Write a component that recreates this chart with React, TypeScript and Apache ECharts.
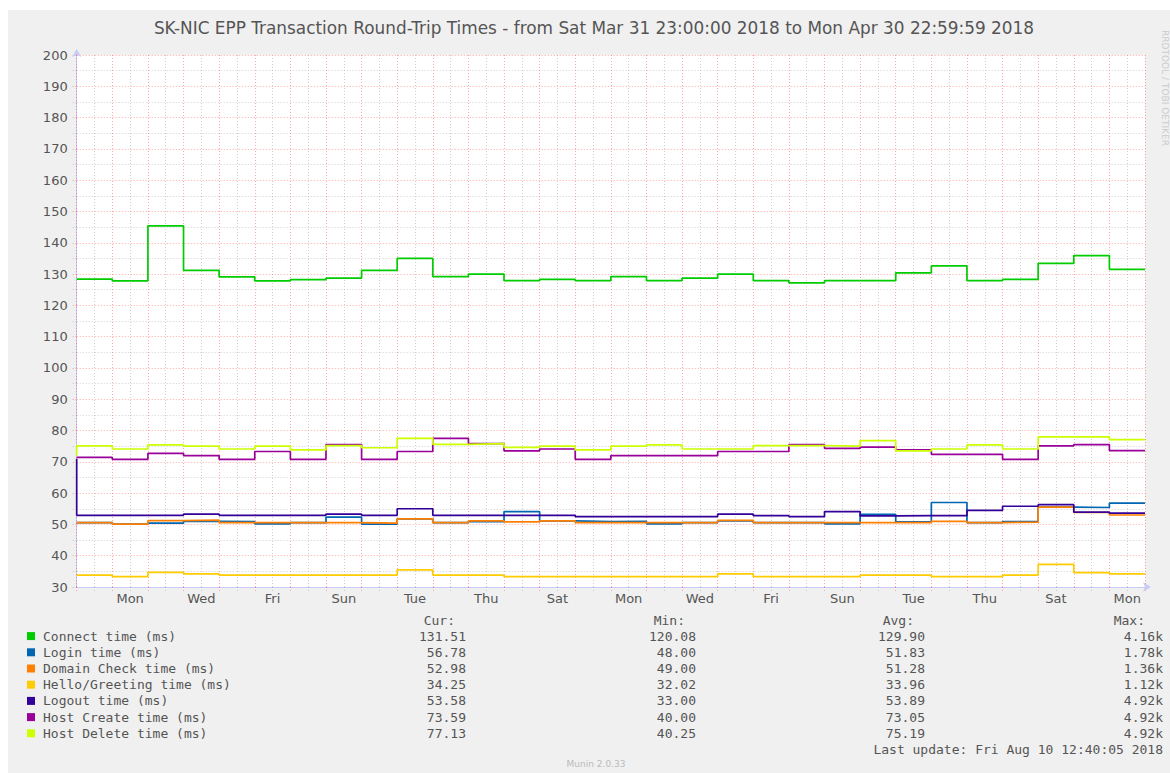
import React, { useEffect, useRef } from "react";
import * as echarts from "echarts";

// Day names for Apr 1 .. Apr 30, 2018 (one category per day)
const dayNames = [
  "Sun", "Mon", "Tue", "Wed", "Thu", "Fri", "Sat",
  "Sun", "Mon", "Tue", "Wed", "Thu", "Fri", "Sat",
  "Sun", "Mon", "Tue", "Wed", "Thu", "Fri", "Sat",
  "Sun", "Mon", "Tue", "Wed", "Thu", "Fri", "Sat",
  "Sun", "Mon",
];

const seriesNames = [
  "Connect time (ms)",
  "Login time (ms)",
  "Domain Check time (ms)",
  "Hello/Greeting time (ms)",
  "Logout time (ms)",
  "Host Create time (ms)",
  "Host Delete time (ms)",
];

const seriesColors = ["#00CC00", "#0066B3", "#FF8000", "#FFCC00", "#330099", "#990099", "#CCFF00"];

// one value per day (30 days)
const connectTime = [128.4, 127.8, 145.4, 131.2, 129.1, 127.8, 128.2, 128.7, 131.2, 135.0, 129.2, 130.0, 127.9, 128.3, 127.9, 129.2, 127.9, 128.7, 130.0, 127.9, 127.2, 127.9, 127.9, 130.4, 132.6, 127.9, 128.3, 133.4, 135.9, 131.5];
const loginTime = [50.6, 50.1, 50.4, 51.0, 50.9, 50.2, 50.6, 52.3, 50.1, 51.8, 50.6, 50.9, 54.1, 51.1, 50.9, 51.0, 50.2, 50.6, 51.1, 50.6, 50.6, 50.2, 53.2, 50.8, 57.0, 50.6, 50.9, 55.5, 55.4, 56.8];
const domainCheckTime = [50.6, 50.1, 51.2, 51.4, 50.6, 50.6, 50.6, 50.6, 50.4, 51.8, 50.6, 51.1, 50.8, 51.1, 50.6, 50.6, 50.6, 50.6, 51.3, 50.6, 50.6, 50.6, 50.6, 50.6, 51.0, 50.6, 50.7, 55.5, 53.8, 53.0];
const helloTime = [33.8, 33.3, 34.7, 34.2, 33.8, 33.8, 33.8, 33.8, 33.8, 35.5, 33.8, 33.8, 33.3, 33.3, 33.3, 33.3, 33.3, 33.3, 34.2, 33.3, 33.3, 33.3, 33.8, 33.8, 33.3, 33.3, 33.8, 37.2, 34.6, 34.2];
const logoutStartValue = 71.0;
const logoutTime = [52.9, 52.9, 52.9, 53.3, 52.9, 52.9, 52.9, 53.3, 52.9, 55.0, 52.9, 52.9, 52.9, 52.9, 52.5, 52.5, 52.5, 52.5, 53.3, 52.8, 52.5, 54.1, 52.7, 52.8, 52.8, 54.5, 55.8, 56.3, 53.9, 53.6];
const hostCreateTime = [71.4, 70.8, 72.7, 72.0, 70.8, 73.3, 70.8, 75.5, 70.8, 73.3, 77.5, 75.8, 73.5, 74.1, 70.8, 72.0, 72.0, 72.0, 73.3, 73.3, 75.5, 74.3, 74.7, 73.8, 72.4, 72.4, 70.8, 75.1, 75.5, 73.6];
const hostDeleteStartValue = 72.0;
const hostDeleteTime = [75.1, 74.1, 75.4, 75.0, 74.1, 75.0, 73.8, 75.2, 74.5, 77.5, 75.6, 75.8, 74.6, 75.0, 73.8, 75.0, 75.4, 74.1, 74.1, 75.2, 75.2, 75.0, 76.8, 73.5, 74.1, 75.4, 74.1, 78.0, 78.0, 77.1];

// legend statistics
const curValues = ["131.51", "56.78", "52.98", "34.25", "53.58", "73.59", "77.13"];
const minValues = ["120.08", "48.00", "49.00", "32.02", "33.00", "40.00", "40.25"];
const avgValues = ["129.90", "51.83", "51.28", "33.96", "53.89", "73.05", "75.19"];
const maxValues = ["4.16k", "1.78k", "1.36k", "1.12k", "4.92k", "4.92k", "4.92k"];
const statHeaders = ["Cur:", "Min:", "Avg:", "Max:"];

const titleText =
  "SK-NIC EPP Transaction Round-Trip Times - from Sat Mar 31 23:00:00 2018 to Mon Apr 30 22:59:59 2018";
const lastUpdateText = "Last update: Fri Aug 10 12:40:05 2018";
const muninText = "Munin 2.0.33";
const rrdText = "RRDTOOL / TOBI OETIKER";

const Y_MIN = 30;
const Y_MAX = 200;

const MONO = "'DejaVu Sans Mono', monospace";
const SANS = "'DejaVu Sans', sans-serif";
const TEXT = "#555555";
const MAJOR = "rgba(255, 60, 60, 0.45)";
const MINOR = "rgba(150, 150, 150, 0.45)";
const AXIS = "#C8CBF5";

function stepData(values: number[], lead?: number) {
  const pts: number[][] = [];
  if (lead !== undefined) pts.push([0, lead]);
  values.forEach((v, i) => pts.push([i, v]));
  pts.push([values.length, values[values.length - 1]]);
  return pts;
}

export default function App() {
  const ref = useRef<HTMLDivElement>(null);

  useEffect(() => {
    if (!ref.current) return;
    const chart = echarts.init(ref.current, undefined, { renderer: "svg" });

    const allValues = [
      stepData(connectTime),
      stepData(loginTime),
      stepData(domainCheckTime),
      stepData(helloTime),
      stepData(logoutTime, logoutStartValue),
      stepData(hostCreateTime),
      stepData(hostDeleteTime, hostDeleteStartValue),
    ];

    const series = seriesNames.map((name, i) => ({
      name,
      type: "line",
      xAxisIndex: 0,
      yAxisIndex: 0,
      step: "end",
      symbol: "none",
      data: allValues[i],
      itemStyle: { color: seriesColors[i] },
      lineStyle: { color: seriesColors[i], width: 1.7 },
      emphasis: { disabled: true },
    }));

    const dashed = [1, 2];
    const rowH = 16.2;
    const mk = (width: number, extra: any = {}) => ({
      fontFamily: MONO,
      fontSize: 13,
      color: TEXT,
      width,
      lineHeight: rowH,
      ...extra,
    });

    const option: any = {
      animation: false,
      backgroundColor: "#F0F0F0",
      grid: {
        left: 68.7,
        right: 25,
        top: 45,
        bottom: 186,
        show: true,
        backgroundColor: "#FFFFFF",
        borderWidth: 0,
      },
      xAxis: [
        {
          type: "value",
          min: 0,
          max: dayNames.length,
          interval: 1,
          axisLabel: { show: false },
          axisLine: {
            show: true,
            lineStyle: { color: AXIS, width: 1 },
            symbol: ["none", "arrow"],
            symbolSize: [7, 8],
            symbolOffset: [0, 6],
          },
          axisTick: { show: true, length: 4, lineStyle: { color: MAJOR, type: dashed } },
          minorTick: { show: true, splitNumber: 2, length: 4, lineStyle: { color: MINOR, type: dashed } },
          splitLine: { show: true, lineStyle: { color: MAJOR, type: dashed, width: 1 } },
          minorSplitLine: { show: true, lineStyle: { color: MINOR, type: dashed, width: 1 } },
          z: 1,
        },
        {
          type: "category",
          data: dayNames,
          boundaryGap: true,
          position: "bottom",
          axisLine: { show: false },
          axisTick: { show: false },
          splitLine: { show: false },
          axisLabel: {
            interval: (index: number) => index % 2 === 1,
            color: TEXT,
            fontFamily: SANS,
            fontSize: 13,
            margin: 5,
          },
        },
      ],
      yAxis: {
        type: "value",
        min: Y_MIN,
        max: Y_MAX,
        interval: 10,
        axisLabel: { color: TEXT, fontFamily: SANS, fontSize: 13, margin: 9 },
        axisLine: {
          show: true,
          lineStyle: { color: AXIS, width: 1 },
          symbol: ["none", "arrow"],
          symbolSize: [7, 8],
          symbolOffset: [0, 6],
        },
        axisTick: { show: true, length: 4, lineStyle: { color: MAJOR, type: dashed } },
        minorTick: { show: true, splitNumber: 2, length: 4, lineStyle: { color: MINOR, type: dashed } },
        splitLine: { show: true, lineStyle: { color: MAJOR, type: dashed, width: 1 } },
        minorSplitLine: { show: true, lineStyle: { color: MINOR, type: dashed, width: 1 } },
      },
      legend: {
        orient: "vertical",
        left: 19,
        top: 618,
        itemWidth: 8,
        itemHeight: 8,
        itemGap: 0,
        icon: "rect",
        selectedMode: false,
        padding: 0,
        data: seriesNames,
        textStyle: {
          color: TEXT,
          fontFamily: MONO,
          fontSize: 13,
          lineHeight: rowH,
          rich: {
            n: mk(360, { padding: [0, 0, 0, 3] }),
            c: mk(63, { align: "right" }),
            m: mk(230, { align: "right" }),
            a: mk(229, { align: "right" }),
            x: mk(238, { align: "right" }),
          },
        },
        formatter: (name: string) => {
          const i = seriesNames.indexOf(name);
          return `{n|${name}}{c|${curValues[i]}}{m|${minValues[i]}}{a|${avgValues[i]}}{x|${maxValues[i]}}`;
        },
      },
      graphic: [
        {
          type: "text",
          x: 586,
          y: 18,
          style: {
            text: titleText,
            fill: TEXT,
            font: `16.9px ${SANS}`,
            textAlign: "center",
            textVerticalAlign: "middle",
          },
        },
        ...statHeaders.map((h, i) => ({
          type: "text",
          x: [447, 677, 906, 1137][i],
          y: 610,
          style: {
            text: h,
            fill: TEXT,
            font: `13px ${MONO}`,
            textAlign: "right",
            textVerticalAlign: "middle",
          },
        })),
        {
          type: "text",
          x: 1155,
          y: 739,
          style: {
            text: lastUpdateText,
            fill: TEXT,
            font: `13px ${MONO}`,
            textAlign: "right",
            textVerticalAlign: "middle",
          },
        },
        {
          type: "text",
          x: 588,
          y: 754,
          style: {
            text: muninText,
            fill: "#BBBBBB",
            font: `9px ${SANS}`,
            textAlign: "center",
            textVerticalAlign: "middle",
          },
        },
        {
          type: "text",
          x: 1157,
          y: 78,
          rotation: -Math.PI / 2,
          style: {
            text: rrdText,
            fill: "#CCCCCC",
            font: `9px ${SANS}`,
            textAlign: "center",
            textVerticalAlign: "middle",
          },
        },
      ],
      series,
    };

    chart.setOption(option);
    return () => chart.dispose();
  }, []);

  return (
    <div
      ref={ref}
      style={{ position: "absolute", left: 8, top: 10, width: 1162, height: 763 }}
    />
  );
}
